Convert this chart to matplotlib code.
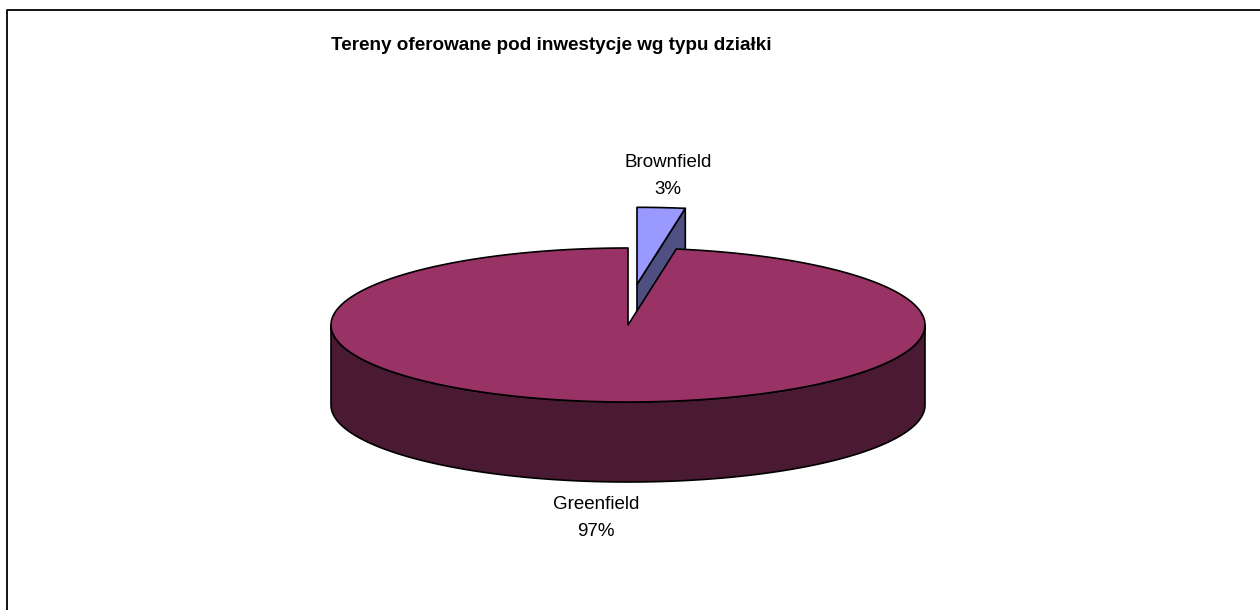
import numpy as np
import matplotlib
matplotlib.use("Agg")
import matplotlib.pyplot as plt
from matplotlib.patches import Polygon
from matplotlib.lines import Line2D

# ---- data ----
title = "Tereny oferowane pod inwestycje wg typu działki"
categories = ["Brownfield", "Greenfield"]
values = [2.6, 97.4]
explode = [0.53, 0.0]

top_colors = ["#9999FF", "#993366"]
side_colors = ["#4F4F82", "#4A1A33"]

W, H = 1260, 610
fig = plt.figure(figsize=(W / 100, H / 100), dpi=100)
ax = fig.add_axes([0, 0, 1, 1])
ax.set_xlim(0, W)
ax.set_ylim(H, 0)
ax.axis("off")

# frame (right / bottom edges are outside the picture)
ax.add_line(Line2D([6.5, 6.5, W + 5], [H + 5, 9.5, 9.5], color="black", lw=1.3))

# pie geometry (pixels)
cx, cy, a, b, depth = 628.0, 325.0, 297.0, 77.0, 80.0

total = float(sum(values))
slices = []
start = 90.0
for i, v in enumerate(values):
    t1 = start
    t2 = start - v / total * 360.0
    mid = np.radians((t1 + t2) / 2)
    ox = explode[i] * a * np.cos(mid) * 0.7
    oy = -explode[i] * b * np.sin(mid)
    slices.append(dict(i=i, t1=t1, t2=t2, ox=ox, oy=oy, mid=mid))
    start = t2


def proj(t, ox, oy, dz=0.0):
    return cx + a * np.cos(t) + ox, cy - b * np.sin(t) + oy + dz


# draw back-to-front
order = sorted(slices, key=lambda s: np.sin(s["mid"]), reverse=True)

for s in order:
    i, ox, oy = s["i"], s["ox"], s["oy"]
    t = np.radians(np.linspace(s["t2"], s["t1"], 720))
    ecx, ecy = cx + ox, cy + oy
    # radial faces
    for ang, normal in ((s["t2"], s["t2"] - 90), (s["t1"], s["t1"] + 90)):
        if np.sin(np.radians(normal)) < -1e-6:
            r = np.radians(ang)
            ex, ey = proj(r, ox, oy)
            poly = [(ecx, ecy), (ex, ey), (ex, ey + depth), (ecx, ecy + depth)]
            ax.add_patch(Polygon(poly, closed=True, fc=side_colors[i], ec="black",
                                 lw=1.2, joinstyle="round"))
    # side wall (front part)
    front = np.sin(t) <= 0
    if front.any():
        tf = t[front]
        xs, ys = proj(tf, ox, oy)
        xb, yb = proj(tf[::-1], ox, oy, depth)
        poly = np.column_stack([np.concatenate([xs, xb]), np.concatenate([ys, yb])])
        ax.add_patch(Polygon(poly, closed=True, fc=side_colors[i], ec="black",
                             lw=1.2, joinstyle="round"))
    # top face
    xs, ys = proj(t, ox, oy)
    poly = np.column_stack([np.concatenate([[ecx], xs]), np.concatenate([[ecy], ys])])
    ax.add_patch(Polygon(poly, closed=True, fc=top_colors[i], ec="black",
                         lw=1.2, joinstyle="round"))

# title
ax.text(551, 46, title, ha="center", va="center", fontsize=13.6, fontweight="bold",
        family="Liberation Sans", color="black")

# data labels
label_pos = [(668, 176), (596, 518)]
for cat, v, (lx, ly) in zip(categories, values, label_pos):
    ax.text(lx, ly, f"{cat}\n{round(v):d}%", ha="center", va="center",
            fontsize=13.5, family="Liberation Sans", linespacing=1.75, color="black")

fig.savefig("out.png", dpi=100, facecolor="white")
